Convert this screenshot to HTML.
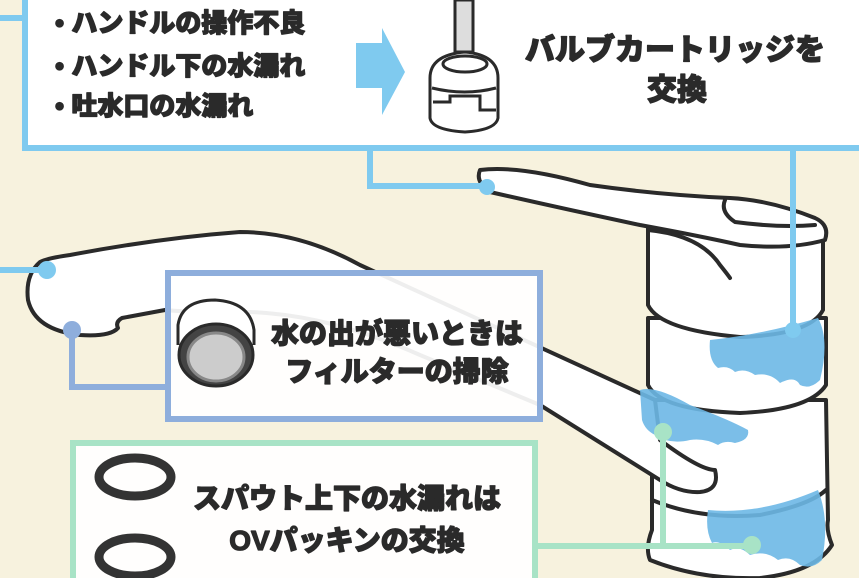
<!DOCTYPE html>
<html><head><meta charset="utf-8"><style>
html,body{margin:0;padding:0;background:#f7f2de;}
svg{display:block}
text{font-family:"Liberation Sans","Noto Sans CJK JP",sans-serif;font-weight:900;fill:#2a2a2a;stroke:#2a2a2a;stroke-width:1.3;stroke-linejoin:round}
</style></head><body>
<svg width="859" height="578" viewBox="0 0 859 578" xmlns="http://www.w3.org/2000/svg">
<rect width="859" height="578" fill="#f7f2de"/>
<g stroke="#2a2a2a" stroke-width="4" fill="#fff" stroke-linejoin="round" stroke-linecap="round">
  <path d="M652 400 L652 530 Q645 548 650 560 Q700 580 760 578 Q815 572 832 545 Q826 530 828 520 L826 400 Z"/>
  <path d="M652 500 Q700 520 760 515 Q810 505 826 490" fill="none"/>
  <path d="M40 262 Q48 258 70 255 Q160 238 240 232 Q300 232 360 265 L655 400 L660 440 Q700 470 715 470 Q720 490 700 492 Q680 493 660 480 L540 405 L420 355 Q330 315 250 312 Q180 312 165 310 L122 318 Q115 322 118 328 Q110 337 80 335 Q35 330 28 300 Q25 275 40 262 Z"/>
  <path d="M648 318 L648 385 Q660 410 740 413 Q810 410 826 385 L826 318 Z"/>
  <path d="M648 228 L648 305 Q660 330 740 337 Q810 335 823 310 L823 228 Z"/>
  <path d="M480 170 Q475 182 490 192 Q560 208 640 225 Q700 236 740 245 Q790 250 825 240 Q830 225 815 218 Q770 200 730 198 Q660 195 590 185 Q520 165 480 170 Z"/>
  <path d="M725 200 Q720 212 735 222 Q780 228 815 225" fill="none"/>
  <path d="M648 230 Q700 235 720 265 Q728 275 730 278" fill="none"/>
</g>
<g fill="#6db8e6" opacity="0.9">
  <path d="M710 340 Q760 335 818 318 Q830 340 820 380 Q810 390 800 385 Q795 375 780 383 Q770 372 755 375 Q745 368 735 372 Q728 365 718 368 Q708 360 710 340 Z"/>
  <path d="M640 390 Q655 385 690 405 Q730 420 748 430 Q750 440 735 443 Q725 440 718 445 Q705 438 690 440 Q670 445 655 435 Q645 430 642 420 Z"/>
  <path d="M708 510 Q760 515 818 490 Q830 520 822 560 Q812 570 800 565 Q790 555 778 560 Q765 550 750 555 Q740 545 730 550 Q720 540 712 543 Q705 530 708 510 Z"/>
</g>
<rect x="25" y="-10" width="845" height="158" fill="#fff" stroke="#7fcaef" stroke-width="6"/>
<path d="M0 18 H25" stroke="#7fcaef" stroke-width="6"/>
<path d="M370 150 V186 H487" stroke="#7fcaef" stroke-width="6" fill="none"/>
<circle cx="487" cy="187" r="8" fill="#7fcaef"/>
<path d="M793 150 V330" stroke="#7fcaef" stroke-width="6"/>
<circle cx="793" cy="330" r="8" fill="#7fcaef"/>
<path d="M0 270 H47" stroke="#7fcaef" stroke-width="6"/>
<circle cx="47" cy="270" r="9" fill="#7fcaef"/>
<text x="55" y="32" font-size="26">• ハンドルの操作不良</text>
<text x="55" y="75" font-size="26">• ハンドル下の水漏れ</text>
<text x="55" y="115" font-size="26">• 吐水口の水漏れ</text>
<path d="M356 43 H382 V28 L405 72 L382 115 V88 H356 Z" fill="#7fcaef"/>
<g stroke="#2a2a2a" stroke-width="3" fill="#fff">
  <rect x="455" y="0" width="18" height="52" fill="#ddd"/>
  <path d="M430 78 Q430 55 465 52 Q498 55 498 78 L498 118 Q496 130 465 132 Q432 130 430 118 Z"/>
  <ellipse cx="465" cy="64" rx="22" ry="8" fill="none"/>
  <path d="M432 88 Q465 96 496 88" fill="none"/>
  <path d="M433 102 H450 V96 H480 V110 H496" fill="none"/>
</g>
<text x="675" y="60" font-size="30" text-anchor="middle">バルブカートリッジを</text>
<text x="677" y="100" font-size="30" text-anchor="middle">交換</text>
<path d="M72 330 V387 H168" stroke="#8eaedc" stroke-width="6" fill="none"/>
<circle cx="72" cy="330" r="9" fill="#8eaedc"/>
<rect x="168" y="273" width="372" height="146" fill="#fff" fill-opacity="0.92" stroke="#8eaedc" stroke-width="6"/>
<g stroke="#2a2a2a" stroke-width="3">
  <path d="M178 345 V325 Q182 300 215 300 Q250 302 254 330 V345" fill="#fff"/>
  <ellipse cx="216" cy="355" rx="37" ry="31" fill="#444"/>
  <ellipse cx="216" cy="357" rx="28" ry="24" fill="#ccc" stroke="#888"/>
</g>
<text x="397" y="343" font-size="28" text-anchor="middle">水の出が悪いときは</text>
<text x="397" y="381" font-size="28" text-anchor="middle">フィルターの掃除</text>
<rect x="73" y="443" width="462" height="150" fill="#fff" fill-opacity="0.92" stroke="#a8e3c6" stroke-width="6"/>
<path d="M535 546 H752 M663 432 V546" stroke="#a8e3c6" stroke-width="6" fill="none"/>
<circle cx="663" cy="432" r="9" fill="#a8e3c6"/>
<circle cx="752" cy="545" r="9" fill="#a8e3c6"/>
<g fill="none" stroke="#333">
  <ellipse cx="135" cy="477" rx="36" ry="19" stroke-width="9"/>
  <ellipse cx="135" cy="557" rx="36" ry="19" stroke-width="9"/>
</g>
<text x="347" y="508" font-size="28" text-anchor="middle">スパウト上下の水漏れは</text>
<text x="347" y="550" font-size="28" text-anchor="middle">OVパッキンの交換</text>
</svg>
</body></html>
